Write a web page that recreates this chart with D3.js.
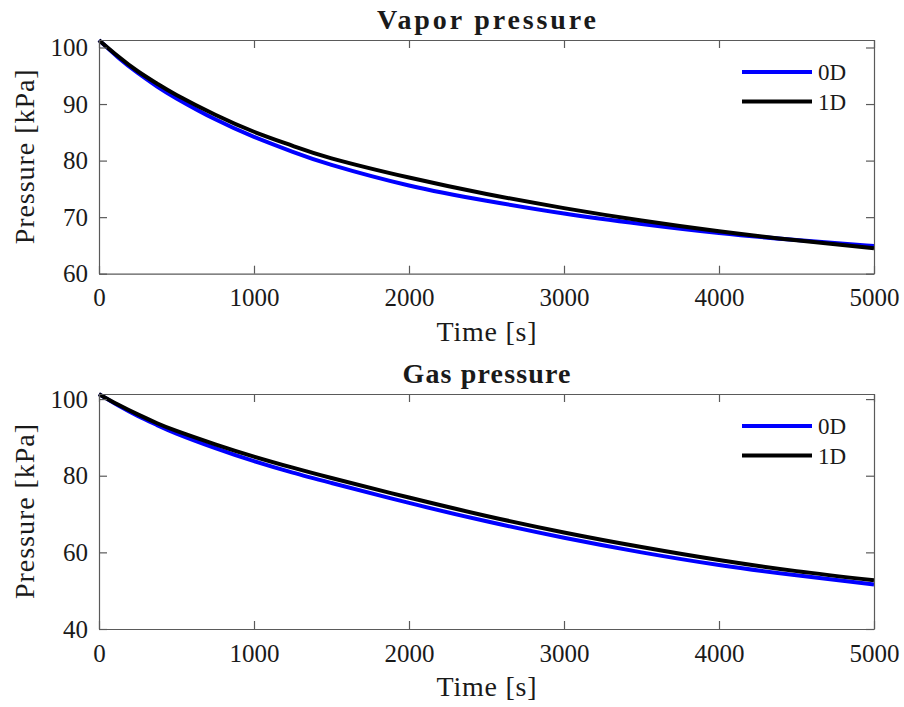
<!DOCTYPE html>
<html>
<head>
<meta charset="utf-8">
<script src="https://cdn.jsdelivr.net/npm/d3@7/dist/d3.min.js"></script>
<style>
  html, body { margin: 0; padding: 0; background: #fff; }
  svg { display: block; }
  text { font-family: "Liberation Serif", "Times New Roman", serif; fill: #1a1a1a; }
</style>
</head>
<body>
<svg id="chart" width="904" height="707"></svg>
<script>
// Time samples [s]
const time = [0, 125, 250, 375, 500, 750, 1000, 1250, 1500, 2000, 2500, 3000, 3500, 4000, 4500, 5000];

// Vapor pressure [kPa]
const vapor0D = [101.3, 98.2, 95.5, 93.1, 91.0, 87.3, 84.2, 81.55, 79.25, 75.6, 72.9, 70.65, 68.8, 67.2, 65.95, 64.9];
const vapor1D = [101.3, 98.4, 95.8, 93.6, 91.6, 88.1, 85.1, 82.6, 80.4, 77.0, 74.1, 71.6, 69.4, 67.5, 65.9, 64.5];

// Gas pressure [kPa]
const gas0D = [101.3, 98.3, 95.6, 93.2, 91.0, 87.2, 83.8, 80.8, 78.1, 72.9, 68.1, 63.8, 60.0, 56.7, 54.0, 51.6];
const gas1D = [101.3, 98.5, 96.0, 93.7, 91.7, 88.2, 85.0, 82.1, 79.4, 74.3, 69.5, 65.2, 61.4, 58.0, 55.1, 52.7];

const xTicks = [0, 1000, 2000, 3000, 4000, 5000];
const vaporTicks = [60, 70, 80, 90, 100];
const gasTicks = [40, 60, 80, 100];

const seriesNames = ["0D", "1D"];
const seriesColors = ["#0000ff", "#000000"];

const svg = d3.select("#chart");
const axisColor = "#5a5a5a";
const serif = "'Liberation Serif', 'Times New Roman', serif";

function panel(opts) {
  const { top, bottom, left, right, yDomain, yTicks, series, title, titleWidth } = opts;
  const x = d3.scaleLinear().domain([0, 5000]).range([left, right]);
  const y = d3.scaleLinear().domain(yDomain).range([bottom, top]);
  const g = svg.append("g");

  // data lines
  const line = d3.line().x(d => x(d[0])).y(d => y(d[1])).curve(d3.curveNatural);
  series.forEach((vals, i) => {
    g.append("path")
      .datum(time.map((t, k) => [t, vals[k]]))
      .attr("d", line)
      .attr("fill", "none")
      .attr("stroke", seriesColors[i])
      .attr("stroke-width", 4)
      .attr("stroke-linejoin", "round");
  });

  // axes: bottom/left labelled, top/right ticks only, all ticks inward
  const tickLen = 8;
  const styleAxis = sel => {
    sel.attr("font-family", null).attr("font-size", null);
    sel.selectAll(".domain").attr("stroke", axisColor).attr("stroke-width", 1.2);
    sel.selectAll(".tick line").attr("stroke", axisColor).attr("stroke-width", 1.2);
    sel.selectAll(".tick text").attr("fill", "#1a1a1a")
      .style("font-size", "25px").style("font-family", serif);
  };
  g.append("g").attr("transform", `translate(0,${bottom})`)
    .call(d3.axisBottom(x).tickValues(xTicks).tickFormat(d3.format("d"))
      .tickSize(-tickLen).tickSizeOuter(0).tickPadding(15))
    .call(styleAxis);
  g.append("g").attr("transform", `translate(0,${top})`)
    .call(d3.axisTop(x).tickValues(xTicks).tickFormat("")
      .tickSize(-tickLen).tickSizeOuter(0))
    .call(styleAxis);
  g.append("g").attr("transform", `translate(${left},0)`)
    .call(d3.axisLeft(y).tickValues(yTicks).tickFormat(d3.format("d"))
      .tickSize(-tickLen).tickSizeOuter(0).tickPadding(11))
    .call(styleAxis);
  g.append("g").attr("transform", `translate(${right},0)`)
    .call(d3.axisRight(y).tickValues(yTicks).tickFormat("")
      .tickSize(-tickLen).tickSizeOuter(0))
    .call(styleAxis);

  // title
  g.append("text")
    .attr("x", (left + right) / 2).attr("y", top - 11)
    .attr("text-anchor", "middle")
    .attr("textLength", titleWidth).attr("lengthAdjust", "spacing")
    .style("font-size", "28px").style("font-weight", "bold")
    .attr("fill", "#000")
    .text(title);

  // x label
  g.append("text")
    .attr("x", (left + right) / 2).attr("y", bottom + 67)
    .attr("text-anchor", "middle")
    .attr("textLength", 100).attr("lengthAdjust", "spacing")
    .style("font-size", "28px")
    .text("Time [s]");

  // y label
  g.append("text")
    .attr("transform", `translate(34,${(top + bottom) / 2}) rotate(-90)`)
    .attr("text-anchor", "middle")
    .attr("textLength", 175).attr("lengthAdjust", "spacing")
    .style("font-size", "28px")
    .text("Pressure [kPa]");

  // legend (no frame)
  const lx0 = 742, lx1 = 812;
  seriesNames.forEach((name, i) => {
    const ly = top + 32 + i * 29.5;
    g.append("line")
      .attr("x1", lx0).attr("x2", lx1).attr("y1", ly).attr("y2", ly)
      .attr("stroke", seriesColors[i]).attr("stroke-width", 4);
    g.append("text")
      .attr("x", lx1 + 6).attr("y", ly).attr("dy", "0.35em")
      .style("font-size", "23px").attr("fill", "#000")
      .text(name);
  });
}

panel({
  top: 40, bottom: 273.7, left: 99, right: 874,
  yDomain: [60, 101.325], yTicks: vaporTicks,
  series: [vapor0D, vapor1D], title: "Vapor pressure", titleWidth: 219
});
panel({
  top: 394, bottom: 629, left: 99, right: 874,
  yDomain: [40, 101.325], yTicks: gasTicks,
  series: [gas0D, gas1D], title: "Gas pressure", titleWidth: 168
});
</script>
</body>
</html>
